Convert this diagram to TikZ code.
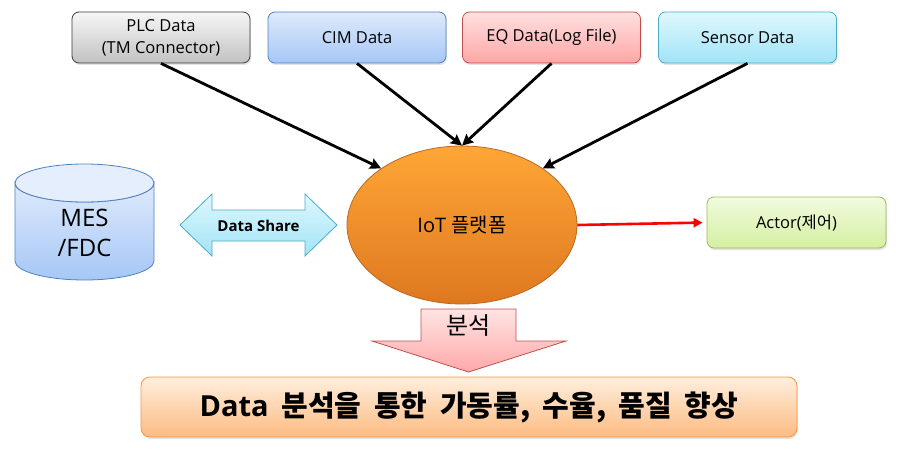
\documentclass[tikz,border=0pt]{standalone}
\usepackage{fontspec}
\setmainfont{Open Sans}
\newfontfamily\kr{Noto Sans CJK KR}
\newfontfamily\krwide[WordSpace=1.9]{Noto Sans CJK KR}
\usetikzlibrary{arrows.meta,positioning,shapes.geometric,shadows}
\definecolor{plcT}{RGB}{246,246,246}\definecolor{plcB}{RGB}{194,194,194}\definecolor{plcD}{RGB}{60,60,60}
\definecolor{cimT}{RGB}{222,234,252}\definecolor{cimB}{RGB}{166,199,246}\definecolor{cimD}{RGB}{79,129,189}
\definecolor{eqT}{RGB}{255,224,224}\definecolor{eqB}{RGB}{255,166,166}\definecolor{eqD}{RGB}{192,80,77}
\definecolor{senT}{RGB}{224,247,253}\definecolor{senB}{RGB}{160,228,248}\definecolor{senD}{RGB}{75,172,198}
\definecolor{actT}{RGB}{242,251,224}\definecolor{actB}{RGB}{212,239,160}\definecolor{actD}{RGB}{155,187,89}
\definecolor{iotT}{RGB}{255,166,54}\definecolor{iotB}{RGB}{222,120,32}\definecolor{iotD}{RGB}{186,104,36}
\definecolor{resT}{RGB}{255,238,222}\definecolor{resB}{RGB}{252,188,130}\definecolor{resD}{RGB}{247,150,70}
\definecolor{anaT}{RGB}{255,228,228}\definecolor{anaB}{RGB}{255,168,168}
\tikzset{
  sbox/.style={rectangle,rounded corners=7pt,line width=0.8pt,minimum width=178pt,minimum height=51pt,
    inner sep=1pt,align=center,font=\fontsize{16.5}{22}\selectfont,
    drop shadow={opacity=0.22,shadow xshift=1pt,shadow yshift=-2pt}},
  iotnode/.style={ellipse,draw=iotD,line width=0.8pt,top color=iotT,bottom color=iotB,
    minimum width=230pt,minimum height=158pt,inner sep=0pt,font=\fontsize{20}{24}\selectfont},
  tnode/.style={inner sep=0pt,align=center},
  de/.style={-{Stealth[length=11pt,width=11pt,inset=1.5pt]},line width=2.8pt},
  re/.style={-{Triangle[length=9pt,width=9pt]},line width=2.6pt,red}
}
\begin{document}
\begin{tikzpicture}[x=1pt,y=-1pt]
\useasboundingbox (0,0) rectangle (900,460);
% data sources
\node[sbox,draw=plcD,top color=plcT,bottom color=plcB] (plc) at (161,37.5) {PLC Data\\(TM Connector)};
\node[sbox,draw=cimD,top color=cimT,bottom color=cimB] (cim) at (357,37.5) {CIM Data};
\node[sbox,draw=eqD,top color=eqT,bottom color=eqB] (eq) at (551.5,37.5) {EQ Data(Log File)};
\node[sbox,draw=senD,top color=senT,bottom color=senB] (sen) at (747.5,37.5) {Sensor Data};
% platform and actor
\node[iotnode] (iot) at (462,225) {IoT {\kr 플랫폼}};
\node[sbox,draw=actD,top color=actT,bottom color=actB,minimum width=179pt] (act) at (796.5,222.5) {Actor({\kr 제어})};
% MES / FDC database
\shade[top color=cimT,bottom color=cimB,draw=cimD,line width=0.8pt]
  (15,183) -- (15,261) arc[start angle=180,end angle=0,x radius=69.5,y radius=19]
  -- (154,183) arc[start angle=0,end angle=180,x radius=69.5,y radius=19] -- cycle;
\draw[cimD,line width=0.8pt,fill=cimT!80!white] (84.5,183) ellipse[x radius=69.5,y radius=19];
\node[tnode,font=\fontsize{24}{30}\selectfont] (mes) at (84.5,233) {MES\\/FDC};
% data share
\shade[top color=senT,bottom color=senB,draw=senD,line width=0.8pt]
  (180,225) -- (212,194) -- (212,210) -- (305,210) -- (305,194) -- (337,225)
  -- (305,256) -- (305,241) -- (212,241) -- (212,256) -- cycle;
\node[tnode,font=\bfseries\fontsize{15}{17}\selectfont] (share) at (258.5,226) {Data Share};
% analysis
\shade[top color=anaT,bottom color=anaB,draw=eqD,line width=0.8pt]
  (421,309) -- (516,309) -- (516,341) -- (566,341) -- (468.5,372)
  -- (372,341) -- (421,341) -- cycle;
\node[tnode,font=\kr\fontsize{24}{28}\selectfont] (ana) at (468.5,326) {분석};
\node[sbox,draw=resD,top color=resT,bottom color=resB,minimum width=656pt,minimum height=60pt,
  rounded corners=9pt,font=\bfseries\fontsize{29}{30}\selectfont] (res) at (469,407)
  {Data{\krwide{} 분석을 통한 가동률, 수율, 품질 향상}};
% connectors
\draw[de] (plc.south) -- (iot.145);
\draw[de] (cim.south) -- (iot.north);
\draw[de] (eq.south) -- (iot.north);
\draw[de] (sen.south) -- (iot.35);
\draw[re,shorten >=4pt] (iot.east) -- (act.west);
\end{tikzpicture}
\end{document}
